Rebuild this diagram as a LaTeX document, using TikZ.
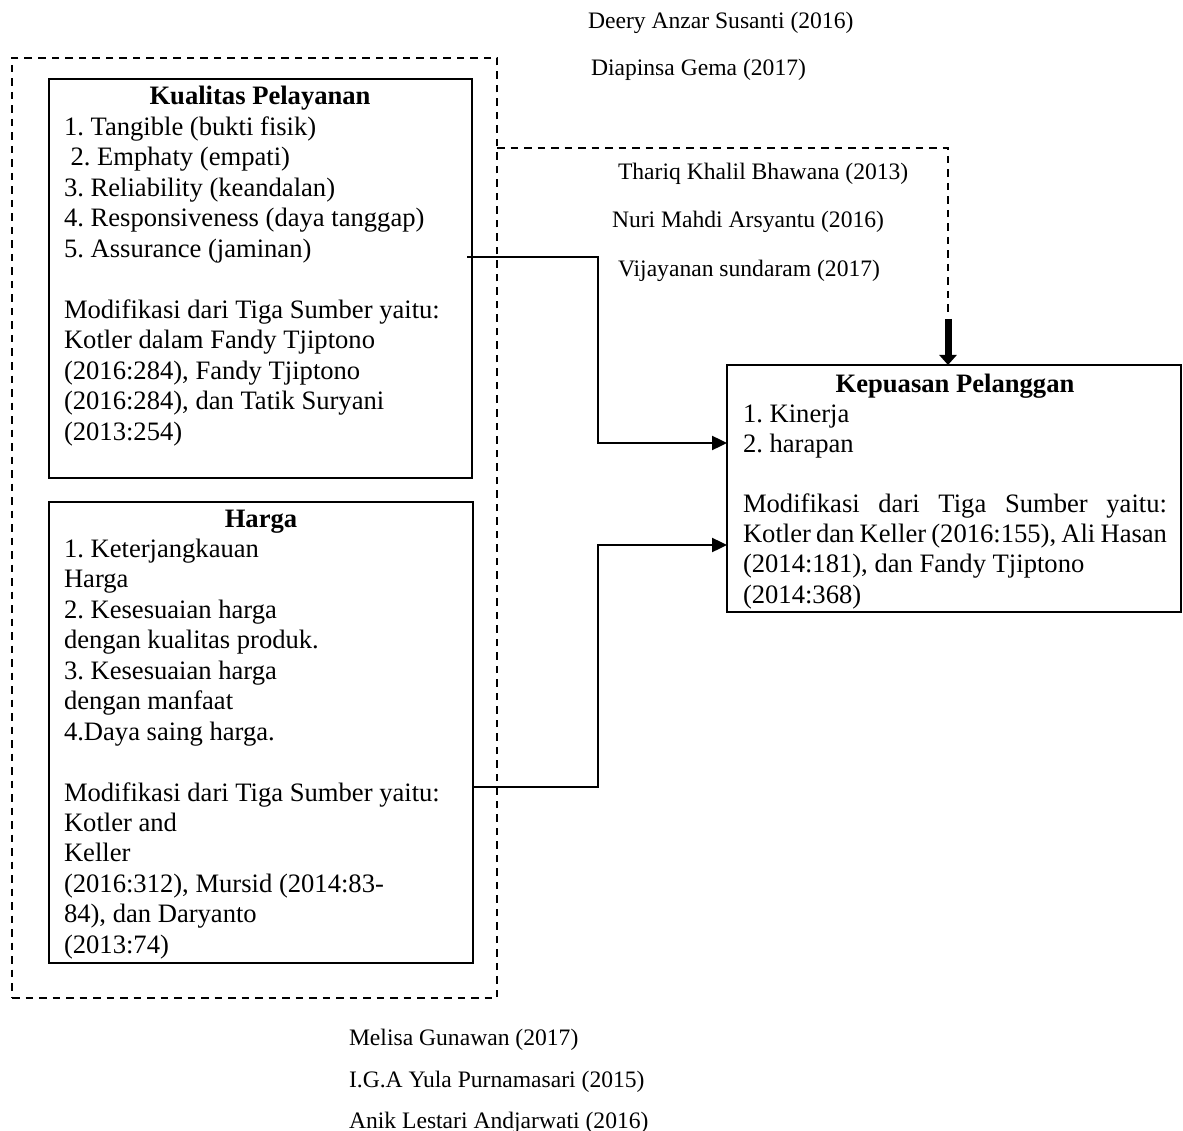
\documentclass[tikz,border=0pt]{standalone}
\usepackage{fontspec}
\setmainfont{Liberation Serif}
\usetikzlibrary{arrows.meta}
\begin{document}
\frenchspacing
\begin{tikzpicture}[x=1pt,y=-1pt,
  box/.style={draw, rectangle, line width=2.4pt, inner sep=0pt, outer sep=0pt, anchor=north west},
  dbox/.style={draw, rectangle, line width=1.6pt, dash pattern=on 7.5pt off 6pt, inner sep=0pt, outer sep=0pt, anchor=north west},
  body/.style={anchor=base west, inner sep=0pt, outer sep=0pt, align=flush left, font=\fontsize{26.6}{30.5}\selectfont\frenchspacing},
  reftext/.style={anchor=base west, inner sep=0pt, outer sep=0pt, font=\fontsize{23.6}{28}\selectfont\frenchspacing},
  conn/.style={line width=2.4pt, -{Triangle[length=15pt,width=14pt]}},
  dconn/.style={line width=1.6pt, dash pattern=on 7.5pt off 6pt},
]
\useasboundingbox[fill=white] (0,0) rectangle (1183,1131);

% outer dashed frame
\node[dbox, minimum width=485pt, minimum height=940pt] (outer) at (12,58) {};

% boxes
\node[box, minimum width=423pt, minimum height=399pt] (kq) at (49,79) {};
\node[box, minimum width=424pt, minimum height=461pt] (hg) at (49,502) {};
\node[box, minimum width=454pt, minimum height=247pt] (kp) at (727,365) {};

% box texts
\node[body, text width=392pt] (kqt) at (64,105) {%
\makebox[392pt]{\bfseries Kualitas Pelayanan}\\
1. Tangible (bukti fisik)\\
\hspace*{6.6pt}2. Emphaty (empati)\\
3. Reliability (keandalan)\\
4. Responsiveness (daya tanggap)\\
5. Assurance (jaminan)\\
\mbox{}\\
Modifikasi dari Tiga Sumber yaitu:\\
Kotler dalam Fandy Tjiptono\\
(2016:284), Fandy Tjiptono\\
(2016:284), dan Tatik Suryani\\
(2013:254)};

\node[body, text width=394pt, font=\fontsize{26.6}{30.45}\selectfont] (hgt) at (64,527) {%
\makebox[394pt]{\bfseries Harga}\\
1. Keterjangkauan\\
Harga\\
2. Kesesuaian harga\\
dengan kualitas produk.\\
3. Kesesuaian harga\\
dengan manfaat\\
4.Daya saing harga.\\
\mbox{}\\
Modifikasi dari Tiga Sumber yaitu:\\
Kotler and\\
Keller\\
(2016:312), Mursid (2014:83-\\
84), dan Daryanto\\
(2013:74)};

\node[body, text width=460pt, font=\fontsize{26.6}{30.15}\selectfont] (kpt) at (743,392) {%
\makebox[424pt]{\bfseries Kepuasan Pelanggan}\\
1. Kinerja\\
2. harapan\\
\mbox{}\\
\makebox[424pt][s]{\spaceskip=6.6pt plus 20pt Modifikasi dari Tiga Sumber yaitu:}\\
\makebox[424pt][s]{\spaceskip=6.6pt plus 3pt minus 5pt Kotler dan Keller (2016:155), Ali Hasan}\\
(2014:181), dan Fandy Tjiptono\\
(2014:368)};

% reference texts
\node[reftext] (r1) at (588,29) {Deery Anzar Susanti (2016)};
\node[reftext] (r2) at (591,76) {Diapinsa Gema (2017)};
\node[reftext] (r3) at (618,180) {Thariq Khalil Bhawana (2013)};
\node[reftext] (r4) at (612,228) {Nuri Mahdi Arsyantu (2016)};
\node[reftext] (r5) at (618,277) {Vijayanan sundaram (2017)};
\node[reftext] (r6) at (349,1045) {Melisa Gunawan (2017)};
\node[reftext] (r7) at (349,1087) {I.G.A Yula Purnamasari (2015)};
\node[reftext] (r8) at (349,1128) {Anik Lestari Andjarwati (2016)};

% connectors
\coordinate (kqout) at (467,257);
\draw[conn] (kqout) -- (598,257) -- (598,443) -- (kp.west |- 0,443);
\draw[conn] (hg.east |- 0,787) -- (598,787) -- (598,545) -- (kp.west |- 0,545);

\coordinate (dturn) at (948,148);
\coordinate (dend) at (948,312);
\draw[dconn] (outer.east |- dturn) -- (dturn) -- (dend);
\draw[line width=7pt, -{Triangle[length=10pt,width=17pt]}] (948,319) -- (kp.north -| dturn);
\end{tikzpicture}
\end{document}
